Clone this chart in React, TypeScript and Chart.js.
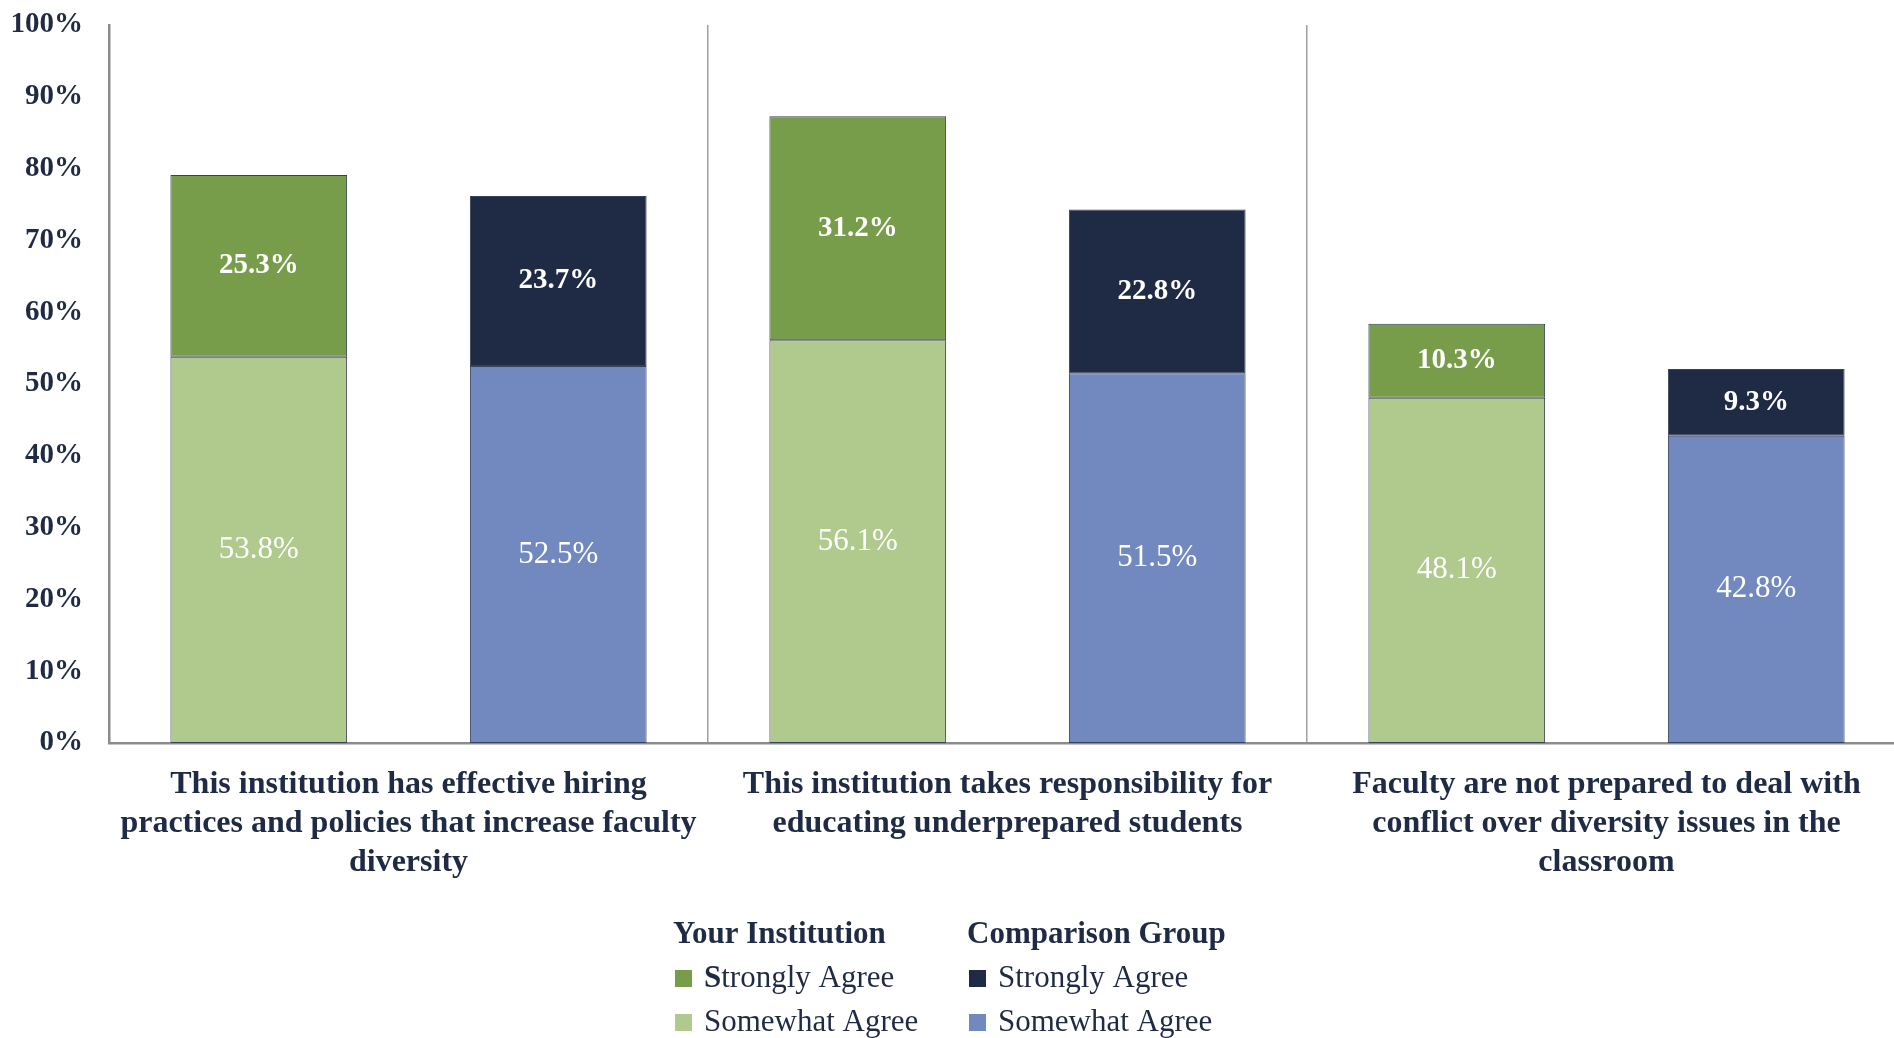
import React, { useEffect, useRef } from "react";
import { Chart, registerables } from "chart.js";

Chart.register(...registerables);

const categories: string[][] = [
  ["This institution has effective hiring", "practices and policies that increase faculty", "diversity"],
  ["This institution takes responsibility for", "educating underprepared students"],
  ["Faculty are not prepared to deal with", "conflict over diversity issues in the", "classroom"],
];

const yourSomewhat = [53.8, 56.1, 48.1];
const yourStrongly = [25.3, 31.2, 10.3];
const compSomewhat = [52.5, 51.5, 42.8];
const compStrongly = [23.7, 22.8, 9.3];

const yTicks = [0, 10, 20, 30, 40, 50, 60, 70, 80, 90, 100];

const legendGroups = ["Your Institution", "Comparison Group"];
const legendItems = ["Strongly Agree", "Somewhat Agree"];

const FONT = "'Liberation Serif', 'Times New Roman', serif";
const NAVY = "#1F2A44";
const C_YS = "#789D4A";
const C_YW = "#B0C98D";
const C_CS = "#1F2A44";
const C_CW = "#7189BF";

const barLabelPlugin = {
  id: "barLabels",
  afterDatasetsDraw(chart: any) {
    const ctx = chart.ctx;
    ctx.save();
    ctx.textAlign = "center";
    ctx.textBaseline = "middle";
    ctx.fillStyle = "#FFFFFF";
    chart.data.datasets.forEach((ds: any, i: number) => {
      const meta = chart.getDatasetMeta(i);
      const bold = ds.strong;
      ctx.font = bold ? `bold 29px ${FONT}` : `31px ${FONT}`;
      meta.data.forEach((el: any, j: number) => {
        const v = ds.data[j];
        const y = (el.y + el.base) / 2;
        ctx.fillText(v.toFixed(1) + "%", el.x, y);
      });
    });
    ctx.restore();
  },
};

const legendPlugin = {
  id: "customLegend",
  afterDraw(chart: any) {
    const ctx = chart.ctx;
    const cols = [673, 967];
    const rowsY = [935, 979, 1023];
    const colors = [
      [C_YS, C_YW],
      [C_CS, C_CW],
    ];
    ctx.save();
    ctx.textBaseline = "middle";
    ctx.textAlign = "left";
    legendGroups.forEach((g, ci) => {
      const x = cols[ci];
      ctx.font = `bold 31px ${FONT}`;
      ctx.fillStyle = NAVY;
      ctx.fillText(g, x, rowsY[0]);
      legendItems.forEach((it, ri) => {
        const y = rowsY[ri + 1];
        ctx.fillStyle = colors[ci][ri];
        ctx.fillRect(x + 2, y - 9, 17, 17);
        ctx.fillStyle = NAVY;
        const tx = x + 31;
        if (ci === 0 && ri === 0) {
          ctx.font = `bold 31px ${FONT}`;
          const first = it.charAt(0);
          ctx.fillText(first, tx, y);
          const w = ctx.measureText(first).width;
          ctx.font = `31px ${FONT}`;
          ctx.fillText(it.slice(1), tx + w, y);
        } else {
          ctx.font = `31px ${FONT}`;
          ctx.fillText(it, tx, y);
        }
      });
    });
    ctx.restore();
  },
};

export default function App() {
  const ref = useRef<HTMLCanvasElement | null>(null);

  useEffect(() => {
    document.body.style.margin = "0";
    document.documentElement.style.overflow = "hidden";
    if (!ref.current) return;
    const chart = new Chart(ref.current, {
      type: "bar",
      data: {
        labels: categories,
        datasets: [
          { label: "Your Institution Somewhat Agree", data: yourSomewhat, backgroundColor: C_YW, stack: "your", strong: false } as any,
          { label: "Your Institution Strongly Agree", data: yourStrongly, backgroundColor: C_YS, stack: "your", strong: true } as any,
          { label: "Comparison Group Somewhat Agree", data: compSomewhat, backgroundColor: C_CW, stack: "comp", strong: false } as any,
          { label: "Comparison Group Strongly Agree", data: compStrongly, backgroundColor: C_CS, stack: "comp", strong: true } as any,
        ].map((d: any) => ({
          ...d,
          borderColor: "#364259",
          borderWidth: 1,
          borderSkipped: false,
          categoryPercentage: 1,
          barPercentage: 0.59,
        })),
      },
      options: {
        animation: false,
        responsive: true,
        maintainAspectRatio: false,
        layout: { padding: { top: 25, right: 0, bottom: 0, left: 0 } },
        plugins: {
          legend: { display: false },
          tooltip: { enabled: false },
        },
        scales: {
          x: {
            stacked: true,
            grid: { display: true, offset: true, color: "#A0A0A0", lineWidth: 1.5, drawTicks: false },
            border: { display: true, color: "#8C8C8C", width: 2.5 },
            ticks: {
              autoSkip: false,
              maxRotation: 0,
              minRotation: 0,
              padding: 22,
              color: NAVY,
              font: { family: FONT, size: 32, weight: "bold", lineHeight: 1.22 },
            },
            afterFit: (s: any) => {
              s.height = 1038 - 743;
            },
          },
          y: {
            stacked: true,
            min: 0,
            max: 100,
            afterBuildTicks: (s: any) => {
              s.ticks = yTicks.map((v) => ({ value: v }));
            },
            grid: { display: false, drawTicks: false },
            border: { display: true, color: "#8C8C8C", width: 2.5 },
            ticks: {
              padding: 26,
              color: NAVY,
              font: { family: FONT, size: 29, weight: "bold" },
              callback: (v: any) => v + "%",
            },
            afterFit: (s: any) => {
              s.width = 109;
              s.paddingTop = 0;
              s.paddingBottom = 0;
            },
          },
        },
      },
      plugins: [barLabelPlugin, legendPlugin],
    } as any);
    return () => chart.destroy();
  }, []);

  return (
    <div style={{ width: 1894, height: 1038, overflow: "hidden", position: "relative" }}>
      <div style={{ width: 1906, height: 1038, position: "absolute", left: 0, top: 0 }}>
        <canvas ref={ref} />
      </div>
    </div>
  );
}
